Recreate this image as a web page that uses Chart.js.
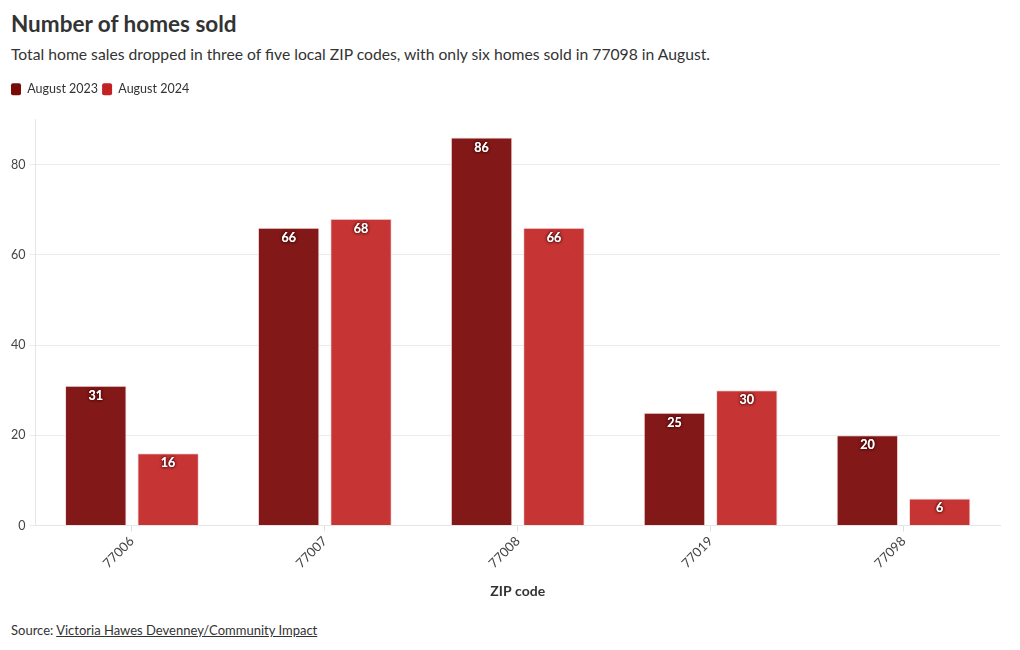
<!DOCTYPE html>
<html>
<head>
<meta charset="utf-8">
<script src="https://cdn.jsdelivr.net/npm/chart.js@4"></script>
<style>
  html, body { margin: 0; padding: 0; background: #fff; width: 1020px; height: 650px; overflow: hidden; font-family: Lato, "Noto Sans", sans-serif; color: #333; }
  #title { position: absolute; left: 11px; top: 10px; font-size: 22.5px; font-weight: 700; color: #333; }
  #subtitle { position: absolute; left: 11px; top: 45px; font-size: 15.7px; color: #333; }
  #source { position: absolute; left: 11px; top: 622px; font-size: 13px; color: #333; }
  #source span { text-decoration: underline; }
  #wrap { position: absolute; left: 3px; top: 79px; width: 1009px; height: 525px; }
</style>
</head>
<body>
<div id="title">Number of homes sold</div>
<div id="subtitle">Total home sales dropped in three of five local ZIP codes, with only six homes sold in 77098 in August.</div>
<div id="wrap"><canvas id="c"></canvas></div>
<div id="source">Source: <span>Victoria Hawes Devenney/Community Impact</span></div>
<script>
const categories = ["77006", "77007", "77008", "77019", "77098"];
const seriesNames = ["August 2023", "August 2024"];
const aug2023 = [31, 66, 86, 25, 20];
const aug2024 = [16, 68, 66, 30, 6];
const yTicks = [0, 20, 40, 60, 80];

const FONT = 'Lato, "Noto Sans", sans-serif';

const legendGap = {
  id: 'legendGap',
  beforeInit(chart) {
    const lg = chart.legend;
    const orig = lg.fit;
    lg.fit = function () { orig.call(this); this.height += 14; };
  }
};

const labelPlugin = {
  id: 'barLabels',
  afterDatasetsDraw(chart) {
    const ctx = chart.ctx;
    ctx.save();
    ctx.font = 'bold 12.5px ' + FONT;
    ctx.textAlign = 'center';
    ctx.textBaseline = 'middle';
    chart.data.datasets.forEach((ds, i) => {
      const meta = chart.getDatasetMeta(i);
      meta.data.forEach((bar, j) => {
        const txt = String(ds.data[j]);
        const y = bar.y + 10;
        ctx.shadowColor = 'rgba(60,0,0,0.9)';
        ctx.shadowBlur = 3;
        ctx.fillStyle = '#fff';
        ctx.fillText(txt, bar.x, y);
        ctx.fillText(txt, bar.x, y);
      });
    });
    ctx.restore();
  }
};

new Chart(document.getElementById('c'), {
  type: 'bar',
  data: {
    labels: categories,
    datasets: [
      { label: seriesNames[0], data: aug2023, backgroundColor: '#821818', borderColor: '#f3dada', borderWidth: 1, categoryPercentage: 0.75, barPercentage: 0.85 },
      { label: seriesNames[1], data: aug2024, backgroundColor: '#c63434', borderColor: '#f6dede', borderWidth: 1, categoryPercentage: 0.75, barPercentage: 0.85 }
    ]
  },
  options: {
    responsive: true,
    maintainAspectRatio: false,
    animation: false,
    layout: { padding: { left: 4, right: 12, top: 0, bottom: 0 } },
    plugins: {
      legend: {
        position: 'top',
        align: 'start',
        labels: {
          font: { family: FONT, size: 12.5 },
          color: '#333',
          boxWidth: 10,
          boxHeight: 12,
          padding: 4,
          useBorderRadius: true,
          borderRadius: 2,
          generateLabels(chart) {
            const cols = ['#7a0a0a', '#c42222'];
            return chart.data.datasets.map((ds, i) => ({
              text: ds.label, fillStyle: cols[i], strokeStyle: cols[i], lineWidth: 0, datasetIndex: i, borderRadius: 2, fontColor: '#333'
            }));
          }
        }
      },
      tooltip: { enabled: false }
    },
    scales: {
      x: {
        grid: { display: true, drawOnChartArea: false, drawTicks: true, tickLength: 6, offset: false, color: '#e0e0e0' },
        border: { color: '#e6e6e6' },
        ticks: { font: { family: FONT, size: 13 }, color: '#444', maxRotation: 45, minRotation: 45, padding: 2 },
        title: { display: true, text: 'ZIP code', font: { family: FONT, size: 14, weight: 'bold' }, color: '#333', padding: { top: 10 } }
      },
      y: {
        min: 0, max: 90,
        afterBuildTicks(axis) { axis.ticks = yTicks.map(v => ({ value: v })); },
        grid: { color: '#ebebeb', tickLength: 6, drawTicks: true },
        border: { color: '#e6e6e6' },
        ticks: { font: { family: FONT, size: 12.5 }, color: '#444', padding: 4 }
      }
    }
  },
  plugins: [legendGap, labelPlugin]
});
</script>
</body>
</html>
